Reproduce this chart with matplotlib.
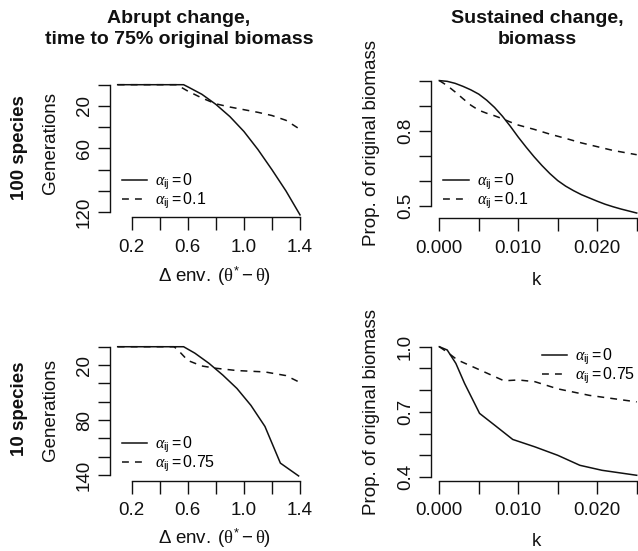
import numpy as np
import matplotlib
matplotlib.use('Agg')
import matplotlib.pyplot as plt

plt.rcParams['font.family'] = ['Liberation Sans', 'DejaVu Sans']
plt.rcParams['mathtext.fontset'] = 'custom'
plt.rcParams['mathtext.rm'] = 'Liberation Sans'
plt.rcParams['mathtext.it'] = 'Liberation Serif:italic'
plt.rcParams['mathtext.sf'] = 'Liberation Serif'
plt.rcParams['mathtext.bf'] = 'Liberation Sans:bold'

# abrupt change, 100 species: generations until biomass drops to 75%
abrupt100_env_a0 = [0.1, 0.2, 0.3, 0.4, 0.5, 0.57, 0.6, 0.7, 0.8, 0.9, 1.0, 1.1, 1.2, 1.3, 1.4]
abrupt100_gen_a0 = [0, 0, 0, 0, 0, 0, 2, 9, 18.5, 30, 44, 61, 80, 100, 122.5]
abrupt100_env_a1 = [0.1, 0.2, 0.3, 0.4, 0.5, 0.52, 0.6, 0.7, 0.8, 0.9, 1.0, 1.1, 1.2, 1.3, 1.4]
abrupt100_gen_a1 = [0, 0, 0, 0, 0, 0, 6, 12.5, 18, 21, 23.5, 26, 29, 33.5, 42]

# abrupt change, 10 species
abrupt10_env_a0 = [0.1, 0.2, 0.3, 0.4, 0.5, 0.57, 0.65, 0.75, 0.85, 0.95, 1.05, 1.15, 1.26, 1.39]
abrupt10_gen_a0 = [0, 0, 0, 0, 0, 0, 7, 18, 31, 45.5, 64, 87, 127, 141]
abrupt10_env_a75 = [0.1, 0.2, 0.3, 0.4, 0.5, 0.52, 0.6, 0.7, 0.8, 0.95, 1.15, 1.3, 1.4]
abrupt10_gen_a75 = [0, 0, 0, 0, 0, 2, 15, 21, 23.5, 26, 27.5, 31.5, 39]

# sustained change, 100 species: proportion of original biomass
sust100_k_a0 = [0, 0.001, 0.002, 0.003, 0.004, 0.005, 0.006, 0.007, 0.008, 0.009, 0.010,
                0.011, 0.012, 0.013, 0.014, 0.015, 0.016, 0.017, 0.018, 0.019, 0.020,
                0.021, 0.022, 0.023, 0.024, 0.025]
sust100_bio_a0 = [1.0, 0.997, 0.989, 0.977, 0.963, 0.946, 0.922, 0.893, 0.858, 0.818, 0.775,
                  0.735, 0.697, 0.662, 0.630, 0.602, 0.580, 0.562, 0.546, 0.533, 0.520,
                  0.508, 0.498, 0.489, 0.481, 0.473]
sust100_k_a1 = [0, 0.001, 0.002, 0.003, 0.004, 0.005, 0.006, 0.007, 0.008, 0.009, 0.010,
                0.012, 0.014, 0.016, 0.018, 0.020, 0.022, 0.025]
sust100_bio_a1 = [1.0, 0.980, 0.955, 0.928, 0.902, 0.882, 0.870, 0.860, 0.848, 0.835, 0.823,
                  0.806, 0.787, 0.770, 0.752, 0.737, 0.722, 0.705]

# sustained change, 10 species
sust10_k_a0 = [0, 0.001, 0.0021, 0.0032, 0.0051, 0.0070, 0.0093, 0.0121, 0.0150, 0.0178, 0.0206, 0.025]
sust10_bio_a0 = [1.0, 0.985, 0.923, 0.831, 0.693, 0.639, 0.573, 0.539, 0.500, 0.454, 0.431, 0.408]
sust10_k_a75 = [0, 0.001, 0.0023, 0.0052, 0.0082, 0.0100, 0.0121, 0.0150, 0.0190, 0.025]
sust10_bio_a75 = [1.0, 0.975, 0.939, 0.892, 0.843, 0.847, 0.839, 0.806, 0.776, 0.746]

env_ticks = [0.2, 0.4, 0.6, 0.8, 1.0, 1.2, 1.4]
env_labels = ['0.2', '', '0.6', '', '1.0', '', '1.4']
k_ticks = [0.0, 0.005, 0.010, 0.015, 0.020, 0.025]
k_labels = ['0.000', '', '0.010', '', '0.020', '']
gen100_ticks = [0, 20, 40, 60, 80, 100, 120]
gen100_labels = ['', '20', '', '60', '', '', '120']
gen10_ticks = [0, 20, 40, 60, 80, 100, 120, 140]
gen10_labels = ['', '20', '', '', '80', '', '', '140']
bio100_ticks = [0.5, 0.6, 0.7, 0.8, 0.9, 1.0]
bio100_labels = ['0.5', '', '', '0.8', '', '']
bio10_ticks = [0.4, 0.5, 0.6, 0.7, 0.8, 0.9, 1.0]
bio10_labels = ['0.4', '', '', '0.7', '', '', '1.0']

W, H = 638, 551
fig = plt.figure(figsize=(W / 100, H / 100), dpi=100)
ink = '#111111'


def fx(px):
    return px / W


def fy(py):
    return 1 - py / H


def add_panel(left, top, right, bottom):
    return fig.add_axes([fx(left), fy(bottom), (right - left) / W, (bottom - top) / H])


def r_axes(ax, xticks, xlabels, yticks, ylabels):
    # base-R look: detached axis lines spanning first to last tick
    ax.patch.set_visible(False)
    for side in ['top', 'right']:
        ax.spines[side].set_visible(False)
    for side in ['left', 'bottom']:
        ax.spines[side].set_linewidth(1.0)
        ax.spines[side].set_color(ink)
    ax.spines['left'].set_bounds(yticks[0], yticks[-1])
    ax.spines['bottom'].set_bounds(xticks[0], xticks[-1])
    ax.set_xticks(xticks)
    ax.set_xticklabels(xlabels)
    ax.set_yticks(yticks)
    ax.set_yticklabels(ylabels, rotation=90, va='center')
    ax.tick_params(direction='out', length=9, width=1.0, color=ink,
                   labelsize=13.5, labelcolor=ink)
    ax.tick_params(axis='x', pad=6.5)
    ax.tick_params(axis='y', pad=3.5)


def add_legend(ax, x, y):
    ax.legend(loc='center left', bbox_to_anchor=(fx(x), fy(y)),
              bbox_transform=fig.transFigure, frameon=False, fontsize=11.5,
              handlelength=1.6, handletextpad=0.5, labelspacing=-0.1,
              borderpad=0, borderaxespad=0)


solid = dict(color=ink, lw=1.1)
dashed = dict(color=ink, lw=1.1, dashes=(4.5, 4))

# top left
ax1 = add_panel(110.4, 79.5, 307.3, 217)
ax1.plot(abrupt100_env_a0, abrupt100_gen_a0, label=r'$\alpha_{\mathrm{ij}} = 0$', **solid)
ax1.plot(abrupt100_env_a1, abrupt100_gen_a1, label=r'$\alpha_{\mathrm{ij}} = 0.1$', **dashed)
ax1.set_xlim(0.048, 1.452)
ax1.set_ylim(124.5, -4.9)
r_axes(ax1, env_ticks, env_labels, gen100_ticks, gen100_labels)
add_legend(ax1, 121.7, 191)

# top right
ax2 = add_panel(431.4, 75.3, 644.6, 218.3)
ax2.plot(sust100_k_a0, sust100_bio_a0, label=r'$\alpha_{\mathrm{ij}} = 0$', **solid)
ax2.plot(sust100_k_a1, sust100_bio_a1, label=r'$\alpha_{\mathrm{ij}} = 0.1$', **dashed)
ax2.set_xlim(-0.001, 0.026)
ax2.set_ylim(0.452, 1.021)
r_axes(ax2, k_ticks, k_labels, bio100_ticks, bio100_labels)
add_legend(ax2, 443, 191)

# bottom left
ax3 = add_panel(110.4, 341.6, 307.3, 480.7)
ax3.plot(abrupt10_env_a0, abrupt10_gen_a0, label=r'$\alpha_{\mathrm{ij}} = 0$', **solid)
ax3.plot(abrupt10_env_a75, abrupt10_gen_a75, label=r'$\alpha_{\mathrm{ij}} = 0.75$', **dashed)
ax3.set_xlim(0.048, 1.452)
ax3.set_ylim(146.2, -5.6)
r_axes(ax3, env_ticks, env_labels, gen10_ticks, gen10_labels)
add_legend(ax3, 121.7, 454)

# bottom right
ax4 = add_panel(431.4, 341.5, 644.6, 480.5)
ax4.plot(sust10_k_a0, sust10_bio_a0, label=r'$\alpha_{\mathrm{ij}} = 0$', **solid)
ax4.plot(sust10_k_a75, sust10_bio_a75, label=r'$\alpha_{\mathrm{ij}} = 0.75$', **dashed)
ax4.set_xlim(-0.001, 0.026)
ax4.set_ylim(0.384, 1.024)
r_axes(ax4, k_ticks, k_labels, bio10_ticks, bio10_labels)
add_legend(ax4, 541.7, 366.5)

# column titles
title_kw = dict(ha='center', va='baseline', fontsize=14, fontweight='bold', color=ink)
fig.text(fx(179), fy(22.7), 'Abrupt change,', **title_kw)
fig.text(fx(179), fy(44.3), 'time to 75% original biomass', **title_kw)
fig.text(fx(537), fy(22.7), 'Sustained change,', **title_kw)
fig.text(fx(537), fy(44.3), 'biomass', **title_kw)

# row labels and axis titles
row_kw = dict(ha='center', va='center', rotation=90, fontsize=13.5, fontweight='bold', color=ink)
fig.text(fx(20), fy(148), '100 species', **row_kw)
fig.text(fx(20), fy(409), '10 species', **row_kw)

lab_kw = dict(ha='center', va='center', rotation=90, fontsize=13.5, color=ink)
fig.text(fx(50), fy(143), 'Generations', **lab_kw)
fig.text(fx(50), fy(410), 'Generations', **lab_kw)
fig.text(fx(371.3), fy(143.3), 'Prop. of original biomass', **lab_kw)
fig.text(fx(371.3), fy(411.7), 'Prop. of original biomass', **lab_kw)

env_label = r'$\Delta\ \mathrm{env.}\ (\mathsf{\theta}^{*} - \mathsf{\theta})$'
xlab_kw = dict(ha='center', va='baseline', fontsize=13.5, color=ink)
fig.text(fx(215), fy(282), env_label, **xlab_kw)
fig.text(fx(215), fy(543.5), env_label, **xlab_kw)
fig.text(fx(536.3), fy(285), 'k', **xlab_kw)
fig.text(fx(536.3), fy(546), 'k', **xlab_kw)

fig.savefig('out.png', dpi=100)
